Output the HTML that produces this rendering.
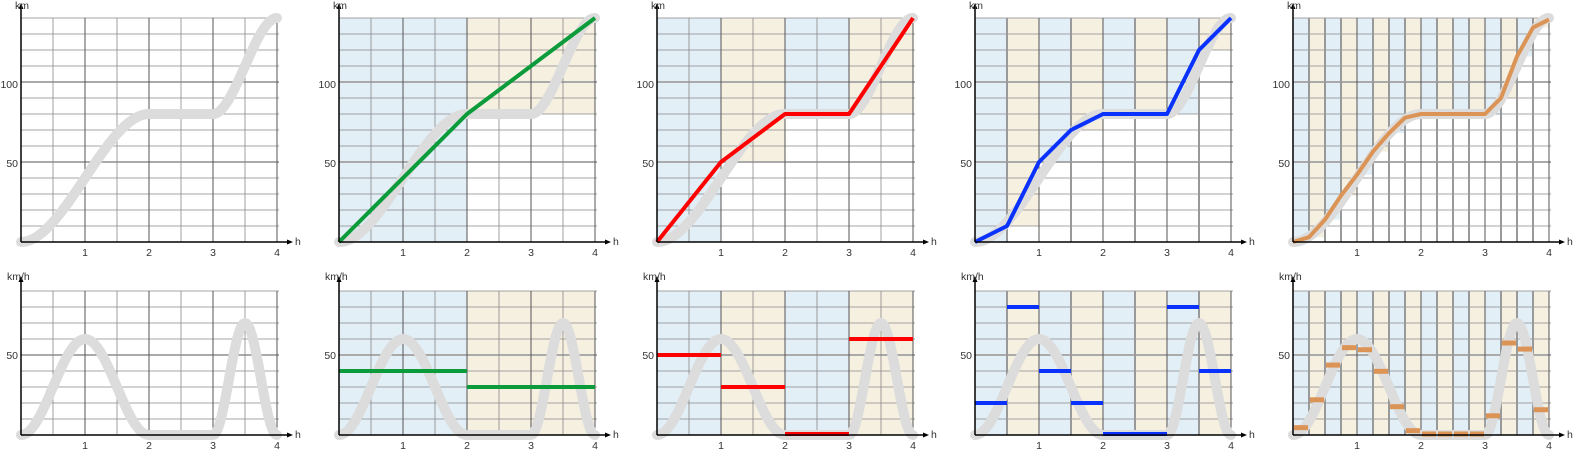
<!DOCTYPE html>
<html><head><meta charset="utf-8"><style>
html,body{margin:0;padding:0;background:#fff;}
svg{display:block;}
text{font-family:"Liberation Sans",sans-serif;font-size:10.5px;fill:#333;}
</style></head><body>
<svg id="s" width="1576" height="453" viewBox="0 0 1576 453" xmlns="http://www.w3.org/2000/svg">
<g id="g"></g>
<g id="labels">
<text x="15" y="9">km</text><text x="18" y="88" text-anchor="end">100</text><text x="18" y="167" text-anchor="end">50</text>
<text x="85" y="256" text-anchor="middle">1</text><text x="149" y="256" text-anchor="middle">2</text><text x="213" y="256" text-anchor="middle">3</text><text x="277" y="256" text-anchor="middle">4</text><text x="295" y="245">h</text>
<text x="7" y="280">km/h</text><text x="18" y="359" text-anchor="end">50</text>
<text x="85" y="449" text-anchor="middle">1</text><text x="149" y="449" text-anchor="middle">2</text><text x="213" y="449" text-anchor="middle">3</text><text x="277" y="449" text-anchor="middle">4</text><text x="295" y="438">h</text>

<text x="333" y="9">km</text><text x="336" y="88" text-anchor="end">100</text><text x="336" y="167" text-anchor="end">50</text>
<text x="403" y="256" text-anchor="middle">1</text><text x="467" y="256" text-anchor="middle">2</text><text x="531" y="256" text-anchor="middle">3</text><text x="595" y="256" text-anchor="middle">4</text><text x="613" y="245">h</text>
<text x="325" y="280">km/h</text><text x="336" y="359" text-anchor="end">50</text>
<text x="403" y="449" text-anchor="middle">1</text><text x="467" y="449" text-anchor="middle">2</text><text x="531" y="449" text-anchor="middle">3</text><text x="595" y="449" text-anchor="middle">4</text><text x="613" y="438">h</text>

<text x="651" y="9">km</text><text x="654" y="88" text-anchor="end">100</text><text x="654" y="167" text-anchor="end">50</text>
<text x="721" y="256" text-anchor="middle">1</text><text x="785" y="256" text-anchor="middle">2</text><text x="849" y="256" text-anchor="middle">3</text><text x="913" y="256" text-anchor="middle">4</text><text x="931" y="245">h</text>
<text x="643" y="280">km/h</text><text x="654" y="359" text-anchor="end">50</text>
<text x="721" y="449" text-anchor="middle">1</text><text x="785" y="449" text-anchor="middle">2</text><text x="849" y="449" text-anchor="middle">3</text><text x="913" y="449" text-anchor="middle">4</text><text x="931" y="438">h</text>

<text x="969" y="9">km</text><text x="972" y="88" text-anchor="end">100</text><text x="972" y="167" text-anchor="end">50</text>
<text x="1039" y="256" text-anchor="middle">1</text><text x="1103" y="256" text-anchor="middle">2</text><text x="1167" y="256" text-anchor="middle">3</text><text x="1231" y="256" text-anchor="middle">4</text><text x="1249" y="245">h</text>
<text x="961" y="280">km/h</text><text x="972" y="359" text-anchor="end">50</text>
<text x="1039" y="449" text-anchor="middle">1</text><text x="1103" y="449" text-anchor="middle">2</text><text x="1167" y="449" text-anchor="middle">3</text><text x="1231" y="449" text-anchor="middle">4</text><text x="1249" y="438">h</text>

<text x="1287" y="9">km</text><text x="1290" y="88" text-anchor="end">100</text><text x="1290" y="167" text-anchor="end">50</text>
<text x="1357" y="256" text-anchor="middle">1</text><text x="1421" y="256" text-anchor="middle">2</text><text x="1485" y="256" text-anchor="middle">3</text><text x="1549" y="256" text-anchor="middle">4</text><text x="1567" y="245">h</text>
<text x="1279" y="280">km/h</text><text x="1290" y="359" text-anchor="end">50</text>
<text x="1357" y="449" text-anchor="middle">1</text><text x="1421" y="449" text-anchor="middle">2</text><text x="1485" y="449" text-anchor="middle">3</text><text x="1549" y="449" text-anchor="middle">4</text><text x="1567" y="438">h</text>
</g>
</svg>
<script>
var NS="http://www.w3.org/2000/svg",G=document.getElementById('g');
function el(t,a){var e=document.createElementNS(NS,t);for(var k in a)e.setAttribute(k,a[k]);G.appendChild(e);return e;}
var OX=[21,339,657,975,1293],TY0=242,BY0=435,S=1.6,HX=64;
var BL="#e2eff6",BE="#f6f0e1";
function ss(s){return 3*s*s-2*s*s*s;}
function dist(t){if(t<=2)return 80*ss(t/2);if(t<=3)return 80;return 80+60*ss(t-3);}
function spd(t){if(t<=2)return 60*Math.pow(Math.sin(Math.PI*t/2),2);if(t<=3)return 0;return 70*Math.pow(Math.sin(Math.PI*(t-3)),2);}
var panels=[
 {n:0},
 {n:2,d:[0,80,140],v:[40,30],c:"#0b9b3a"},
 {n:4,d:[0,50,80,80,140],v:[50,30,0,60],c:"#ff0000"},
 {n:8,d:[0,10,50,70,80,80,80,120,140],v:[20,80,40,20,0,0,80,40],c:"#0a32ff"},
 {n:16,d:[0,3,14,29,42,56.5,68,77.7,80,80,80,80,80,90,116,134,139],v:[4.6,22,43.7,54.6,53.3,39.8,17.7,2.7,0,0,0,0,12,57.5,53.7,15.8],c:"#db9455"}
];
panels.forEach(function(p,i){
 var ox=OX[i];
 [[TY0,140,dist,p.d],[BY0,90,spd,p.v]].forEach(function(r,row){
  var y0=r[0],top=y0-r[1]*S,w=256;
  if(p.n){var sw=w/p.n;for(var k=0;k<p.n;k++){var yt=top,yb=y0;if(row==0)yb=y0-p.d[k]*S;
   el('rect',{x:ox+k*sw,y:yt,width:sw,height:Math.max(0,yb-yt),fill:k%2?BE:BL});}}
  for(var v=10;v<=r[1];v+=10){var y=y0-v*S;var maj=(v%50==0);
   el('line',{x1:ox,x2:ox+w+2,y1:y,y2:y,stroke:maj?"#aaa":"#888","stroke-width":maj?2:0.8});}
  var step=(p.n==16)?16:32;
  for(var x=step;x<=w;x+=step){var maj=(x%64==0);var seg=p.n&&(x%(w/p.n)==0);
   el('line',{x1:ox+x,x2:ox+x,y1:top,y2:y0,stroke:maj?"#555":(seg?"#999":"#888"),"stroke-width":maj?1:(seg?2:0.8)});}
  var pts=[];for(var t=0;t<=4.0001;t+=0.02)pts.push((ox+t*HX).toFixed(1)+","+(y0-r[2](t)*S).toFixed(1));
  el('polyline',{points:pts.join(" "),fill:"none",stroke:"#dcdcdc","stroke-width":10,"stroke-linecap":"round","stroke-linejoin":"round"});
  if(p.n){var sw=w/p.n;
   if(row==0){var q=[];for(var k=0;k<=p.n;k++)q.push((ox+k*sw)+","+(y0-p.d[k]*S));
    el('polyline',{points:q.join(" "),fill:"none",stroke:p.c,"stroke-width":4,"stroke-linejoin":"round"});}
   else{for(var k=0;k<p.n;k++){var y=y0-p.v[k]*S;if(p.v[k]==0)y=y0-1;
    el('line',{x1:ox+k*sw+(p.n==16?1:0),x2:ox+(k+1)*sw-(p.n==16?1:0),y1:y,y2:y,stroke:p.c,"stroke-width":p.n==16?5:4});}}
  }
  el('line',{x1:ox,x2:ox,y1:y0,y2:y0-r[1]*S-12,stroke:"#000","stroke-width":1.5});
  el('polygon',{points:(ox-2.5)+","+(y0-r[1]*S-9)+" "+(ox+2.5)+","+(y0-r[1]*S-9)+" "+ox+","+(y0-r[1]*S-15),fill:"#000"});
  el('line',{x1:ox,x2:ox+268,y1:y0,y2:y0,stroke:"#000","stroke-width":1.5});
  el('polygon',{points:(ox+266)+","+(y0-2.5)+" "+(ox+266)+","+(y0+2.5)+" "+(ox+272)+","+y0,fill:"#000"});
 });
});
</script>
</body></html>
